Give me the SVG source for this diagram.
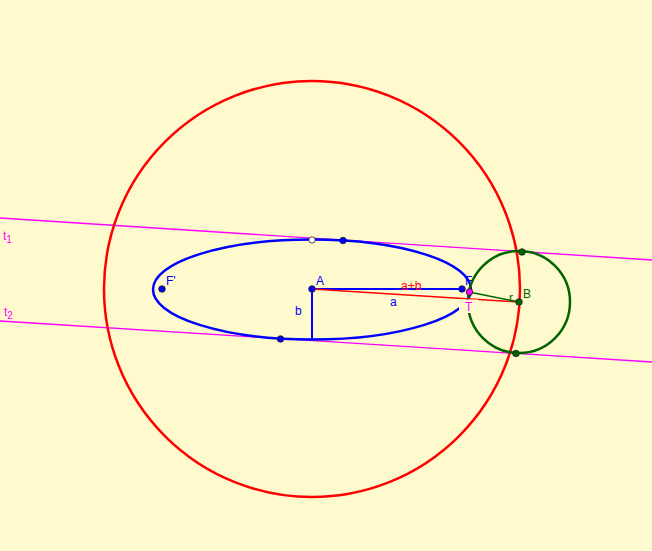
<svg xmlns="http://www.w3.org/2000/svg" width="652" height="551" viewBox="0 0 652 551">
<style>
text{font-family:"Liberation Sans",Arial,sans-serif;font-size:12px}
.pt{stroke:#222;stroke-width:0.8}
.bl{fill:#0000FF}
.rd{fill:#FF0000}
.gr{fill:#006400}
.mg{fill:#FF00FF}
</style>
<rect width="652" height="551" fill="#FFFACD"/>
<g id="connectors" fill="none">
<line id="t1" x1="0" y1="218" x2="652" y2="260" stroke="#FF00FF" stroke-width="1.3"/>
<line id="t2" x1="0" y1="321" x2="652" y2="362" stroke="#FF00FF" stroke-width="1.3"/>
<circle id="bigcircle" cx="312" cy="289" r="208" stroke="#FF0000" stroke-width="2.5"/>
<ellipse id="ellipse" cx="312" cy="289.5" rx="159" ry="50" stroke="#0000FF" stroke-width="2.5"/>
<circle id="greencircle" cx="519" cy="302" r="51" stroke="#006400" stroke-width="2.5"/>
<line x1="312" y1="289" x2="462" y2="289" stroke="#0000FF" stroke-width="2"/>
<line x1="312" y1="289" x2="312" y2="339.5" stroke="#0000FF" stroke-width="2"/>
<line x1="312" y1="289" x2="519" y2="302" stroke="#FF0000" stroke-width="1.5"/>
<line x1="469" y1="292" x2="519" y2="302" stroke="#006400" stroke-width="1.5"/>
</g>
<g id="labels">
<text x="3" y="240" class="mg">t<tspan font-size="10" dy="3">1</tspan></text>
<text x="4" y="316" class="mg">t<tspan font-size="10" dy="3">2</tspan></text>
<text x="401" y="290" class="rd">a+b</text>
<text x="390" y="306" class="bl">a</text>
<text x="295" y="315" class="bl">b</text>
<text x="509" y="302" class="gr">r</text>
</g>
<g id="node-A"><circle cx="312" cy="289" r="3.3" class="pt bl"/><text x="316" y="285" class="bl">A</text></g>
<g id="node-Fp"><circle cx="162" cy="289" r="3.3" class="pt bl"/><text x="166" y="285" class="bl">F'</text></g>
<g id="node-F"><circle cx="462" cy="289" r="3.3" class="pt bl"/><text x="465" y="285" class="bl">F</text></g>
<g id="node-T"><rect x="459" y="299.5" width="19" height="13.5" fill="#FFFACD"/><circle cx="469.5" cy="292" r="3.3" class="pt mg"/><text x="465" y="311" class="mg">T</text></g>
<g id="node-B"><circle cx="519" cy="302" r="3.3" class="pt gr"/><text x="523" y="298" class="gr" font-size="13">B</text></g>
<g id="node-top"><circle cx="312" cy="240" r="3.2" class="pt" fill="#FFFFFF"/></g>
<g id="node-P1"><circle cx="343" cy="240.5" r="3.3" class="pt bl"/></g>
<g id="node-P2"><circle cx="280.5" cy="339" r="3.3" class="pt bl"/></g>
<g id="node-G1"><circle cx="522" cy="252" r="3.3" class="pt gr"/></g>
<g id="node-G2"><circle cx="516" cy="353.5" r="3.3" class="pt gr"/></g>
</svg>
